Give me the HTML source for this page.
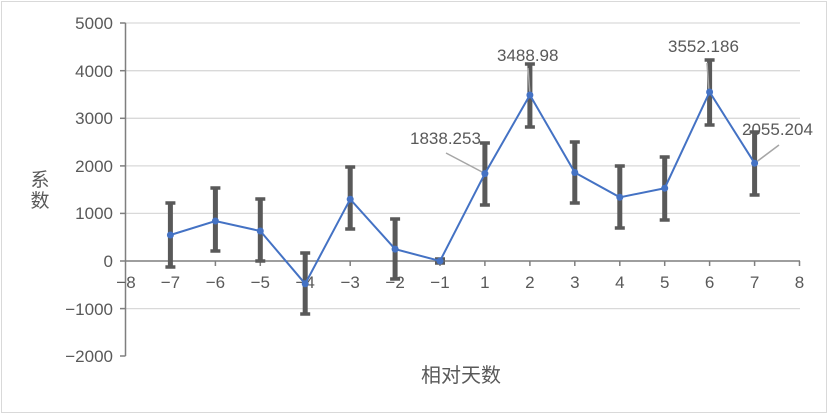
<!DOCTYPE html>
<html><head><meta charset="utf-8"><style>
html,body{margin:0;padding:0;background:#fff}
svg{display:block}
text{font-family:"Liberation Sans","Noto Sans CJK SC",sans-serif;fill:#595959}
</style></head><body>
<svg width="829" height="415" viewBox="0 0 829 415" xmlns="http://www.w3.org/2000/svg">
<rect x="1.5" y="1.5" width="825" height="411" fill="#fff" stroke="#d9d9d9"/>
<g stroke="#d9d9d9" stroke-width="1.3">
<line x1="125" y1="23" x2="800" y2="23"/>
<line x1="125" y1="70.7" x2="800" y2="70.7"/>
<line x1="125" y1="118.3" x2="800" y2="118.3"/>
<line x1="125" y1="165.9" x2="800" y2="165.9"/>
<line x1="125" y1="213.4" x2="800" y2="213.4"/>
<line x1="125" y1="308.6" x2="800" y2="308.6"/>
</g>
<g stroke="#7f7f7f" stroke-width="1.5" fill="none">
<line x1="125.5" y1="23" x2="125.5" y2="356"/>
<line x1="125.5" y1="261" x2="800" y2="261"/>
<line x1="120" y1="23" x2="125.5" y2="23"/><line x1="120" y1="70.7" x2="125.5" y2="70.7"/><line x1="120" y1="118.3" x2="125.5" y2="118.3"/><line x1="120" y1="165.9" x2="125.5" y2="165.9"/><line x1="120" y1="213.4" x2="125.5" y2="213.4"/><line x1="120" y1="261" x2="125.5" y2="261"/><line x1="120" y1="308.6" x2="125.5" y2="308.6"/><line x1="120" y1="356" x2="125.5" y2="356"/>
<path d="M170.4 261v5M215.4 261v5M260.3 261v5M305.2 261v5M350.2 261v5M395.1 261v5M440 261v5M484.9 261v5M529.9 261v5M574.8 261v5M619.8 261v5M664.7 261v5M709.6 261v5M754.6 261v5M799.5 261v5"/>
</g>
<g font-size="17" text-anchor="end">
<text x="113" y="29">5000</text><text x="113" y="77">4000</text><text x="113" y="124">3000</text><text x="113" y="172">2000</text><text x="113" y="219">1000</text><text x="113" y="267">0</text><text x="113" y="315">−1000</text><text x="113" y="362">−2000</text>
</g>
<g font-size="17" text-anchor="middle">
<text x="126" y="288">−8</text><text x="170.4" y="288">−7</text><text x="215.4" y="288">−6</text><text x="260.3" y="288">−5</text><text x="305.2" y="288">−4</text><text x="350.2" y="288">−3</text><text x="395.1" y="288">−2</text><text x="440" y="288">−1</text><text x="484.9" y="288">1</text><text x="529.9" y="288">2</text><text x="574.8" y="288">3</text><text x="619.8" y="288">4</text><text x="664.7" y="288">5</text><text x="709.6" y="288">6</text><text x="754.6" y="288">7</text><text x="799.5" y="288">8</text>
</g>
<text x="461" y="382" font-size="20" text-anchor="middle">相对天数</text>
<text x="40" y="186" font-size="19" text-anchor="middle">系</text>
<text x="40" y="207" font-size="19" text-anchor="middle">数</text>
<g stroke="#595959" stroke-width="5" fill="none">
<path d="M170.4 203V267M215.4 188V251M260.3 199V261M305.2 253V314M350.2 167V229M395.1 219V279M440 259V263M484.9 143V205M529.9 64V127M574.8 142V203M619.8 166V228M664.7 157V220M709.6 60V125M754.6 132V195"/>
</g>
<g stroke="#595959" stroke-width="3.5" fill="none">
<path d="M165.4 203h10M165.4 267h10M210.4 188h10M210.4 251h10M255.3 199h10M255.3 261h10M300.2 253h10M300.2 314h10M345.2 167h10M345.2 229h10M390.1 219h10M390.1 279h10M435 259h10M435 263h10M479.9 143h10M479.9 205h10M524.9 64h10M524.9 127h10M569.8 142h10M569.8 203h10M614.8 166h10M614.8 228h10M659.7 157h10M659.7 220h10M704.6 60h10M704.6 125h10M749.6 132h10M749.6 195h10"/>
</g>
<g stroke="#a6a6a6" stroke-width="1.5">
<line x1="446" y1="153" x2="484" y2="173"/>
<line x1="528" y1="68" x2="530" y2="95"/>
<line x1="707" y1="63" x2="709" y2="92"/>
<line x1="779" y1="145" x2="755" y2="163"/>
</g>
<polyline fill="none" stroke="#4472c4" stroke-width="2" points="170.4,235 215.4,221 260.3,231 305.2,283.8 350.2,199.2 395.1,249.1 440,261 484.9,173.6 529.9,95 574.8,172.5 619.8,197.3 664.7,188.2 709.6,92 754.6,163.2"/>
<g fill="#4472c4">
<circle cx="170.4" cy="235" r="3.5"/><circle cx="215.4" cy="221" r="3.5"/><circle cx="260.3" cy="231" r="3.5"/><circle cx="305.2" cy="283.8" r="3.5"/><circle cx="350.2" cy="199.2" r="3.5"/><circle cx="395.1" cy="249.1" r="3.5"/><circle cx="440" cy="261" r="3.5"/><circle cx="484.9" cy="173.6" r="3.5"/><circle cx="529.9" cy="95" r="3.5"/><circle cx="574.8" cy="172.5" r="3.5"/><circle cx="619.8" cy="197.3" r="3.5"/><circle cx="664.7" cy="188.2" r="3.5"/><circle cx="709.6" cy="92" r="3.5"/><circle cx="754.6" cy="163.2" r="3.5"/>
</g>
<g font-size="17">
<text x="410" y="144">1838.253</text>
<text x="497" y="61">3488.98</text>
<text x="668" y="52">3552.186</text>
<text x="742" y="135">2055.204</text>
</g>
</svg>
</body></html>
